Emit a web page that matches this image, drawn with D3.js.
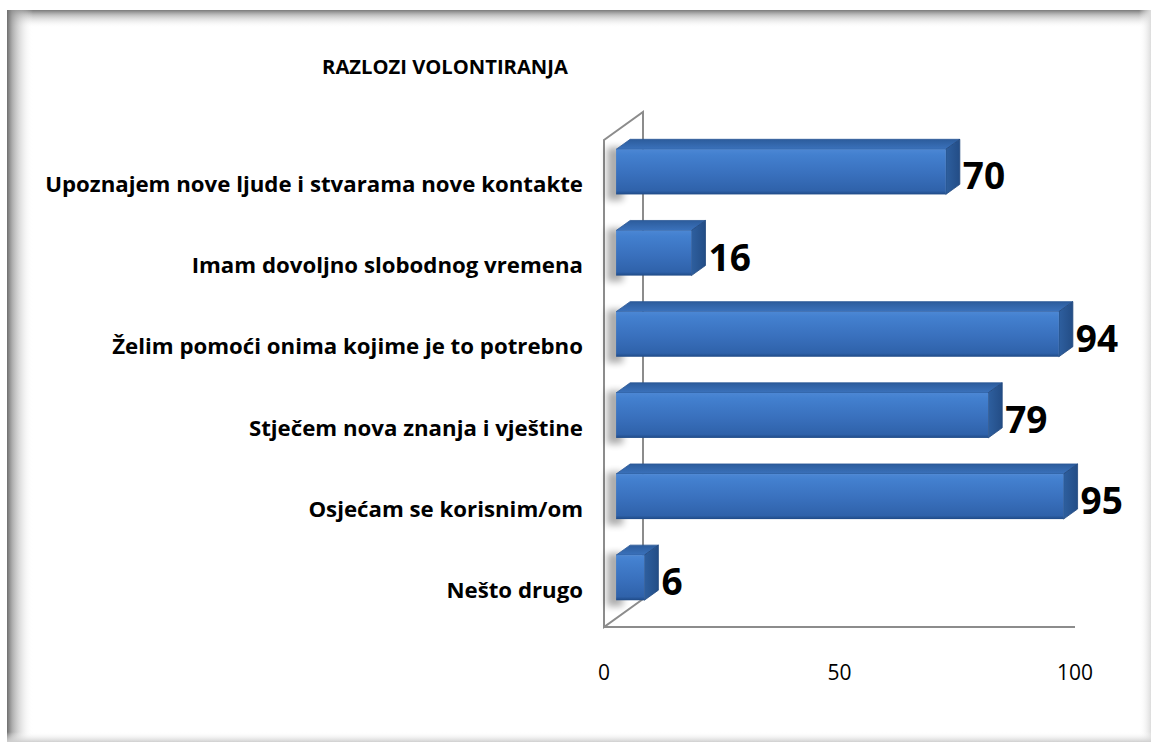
<!DOCTYPE html>
<html><head><meta charset="utf-8">
<script src="https://cdn.jsdelivr.net/npm/d3@7"></script>
<style>body{margin:0;background:#fff}svg{display:block}</style>
</head><body>
<svg id="c" width="1157" height="751"></svg>
<script>
const title = "RAZLOZI VOLONTIRANJA";
const categories = [
  "Upoznajem nove ljude i stvarama nove kontakte",
  "Imam dovoljno slobodnog vremena",
  "Želim pomoći onima kojime je to potrebno",
  "Stječem nova znanja i vještine",
  "Osjećam se korisnim/om",
  "Nešto drugo"
];
const values = [70, 16, 94, 79, 95, 6];
const tickValues = [0, 50, 100];

const svg = d3.select("#c");
const defs = svg.append("defs");
const font = "'Open Sans', 'Noto Sans', sans-serif";

// frame with inner shadow
const F = {x0: 7, y0: 10, x1: 1151, y1: 742};
svg.append("rect").attr("x", F.x0).attr("y", F.y0).attr("width", F.x1 - F.x0).attr("height", F.y1 - F.y0).attr("fill", "#fff");
function grad(id, x1, y1, x2, y2, stops) {
  const g = defs.append("linearGradient").attr("id", id).attr("x1", x1).attr("y1", y1).attr("x2", x2).attr("y2", y2);
  stops.forEach(s => g.append("stop").attr("offset", s[0]).attr("stop-color", s[1]).attr("stop-opacity", s[2]));
}
grad("gL", 0, 0, 1, 0, [[0, "#6e6e6e", 1], [0.2, "#999", 0.8], [1, "#fff", 0]]);
grad("gT", 0, 0, 0, 1, [[0, "#7a7a7a", 1], [0.3, "#aaa", 0.7], [1, "#fff", 0]]);
grad("gR", 1, 0, 0, 0, [[0, "#dcdcdc", 1], [1, "#fff", 0]]);
grad("gB", 0, 1, 0, 0, [[0, "#cfcfcf", 1], [1, "#fff", 0]]);
svg.append("rect").attr("x", F.x0).attr("y", F.y0).attr("width", F.x1 - F.x0).attr("height", 18).attr("fill", "url(#gT)");
svg.append("rect").attr("x", F.x0).attr("y", F.y0).attr("width", 26).attr("height", F.y1 - F.y0).attr("fill", "url(#gL)");
svg.append("rect").attr("x", F.x1 - 12).attr("y", F.y0).attr("width", 12).attr("height", F.y1 - F.y0).attr("fill", "url(#gR)");
svg.append("rect").attr("x", F.x0).attr("y", F.y1 - 10).attr("width", F.x1 - F.x0).attr("height", 10).attr("fill", "url(#gB)");

function fit(sel, target) {
  const w = sel.node().getComputedTextLength();
  const fs = parseFloat(sel.attr("font-size"));
  return fs * target / w;
}

// title
const tt = svg.append("text").attr("x", 445).attr("y", 74).attr("text-anchor", "middle")
  .attr("font-family", font).attr("font-weight", "bold").attr("font-size", 18).attr("fill", "#000").text(title);
tt.attr("font-size", fit(tt, 246));

// scales
const x = d3.scaleLinear().domain([0, 100]).range([604, 1075]);
const y = d3.scaleBand().domain(categories).range([140, 627]).padding(0);
const depth = {dx: 39, dy: -28};
const bf = 0.31, bb = 0.67; // bar front / back depth fractions
const barH = y.bandwidth() * 0.555;

// wall
const wallTop = y.range()[0], wallBot = y.range()[1];
const wallG = svg.append("g");
wallG.append("path")
  .attr("d", `M${x(0)},${wallTop}L${x(0) + depth.dx},${wallTop + depth.dy}L${x(0) + depth.dx},${wallBot + depth.dy}L${x(0)},${wallBot}Z`)
  .attr("fill", "#fff").attr("stroke", "#8c8c8c").attr("stroke-width", 2);
wallG.append("line").attr("x1", x(0)).attr("y1", wallBot).attr("x2", x(100)).attr("y2", wallBot)
  .attr("stroke", "#8c8c8c").attr("stroke-width", 2);

// shadows on wall
defs.append("filter").attr("id", "blur").attr("x", "-50%").attr("y", "-50%").attr("width", "200%").attr("height", "200%")
  .append("feGaussianBlur").attr("stdDeviation", 3.5);
const yc = c => y(c) + y.bandwidth() / 2;
svg.append("g").selectAll("rect").data(categories).join("rect")
  .attr("x", x(0) + 3).attr("width", 16)
  .attr("y", c => yc(c) + depth.dy * bf - barH / 2 - 2).attr("height", barH + 8)
  .attr("fill", "#000").attr("opacity", 0.32).attr("filter", "url(#blur)");

// bar gradients
grad("gFront", 0, 0, 0, 1, [[0, "#4c87d4", 1], [0.12, "#4380cf", 1], [0.55, "#3970bd", 1], [0.92, "#2f62aa", 1], [1, "#1f4a86", 1]]);
grad("gTop", 0, 1, 0, 0, [[0, "#3b72bc", 1], [1, "#2c5c9c", 1]]);
grad("gSide", 0, 0, 1, 0, [[0, "#2e5f9f", 1], [1, "#234d86", 1]]);

const bars = svg.append("g").selectAll("g").data(categories).join("g");
const fx0 = x(0) + depth.dx * bf;
const ddx = depth.dx * (bb - bf), ddy = depth.dy * (bb - bf);
bars.each(function (c, i) {
  const g = d3.select(this);
  const top = yc(c) + depth.dy * bf - barH / 2;
  const x0 = fx0;
  const xe = x0 + (x(values[i]) - x(0));
  g.append("path").attr("d", `M${x0},${top}L${x0 + ddx},${top + ddy}L${xe + ddx},${top + ddy}L${xe},${top}Z`)
    .attr("fill", "url(#gTop)").attr("stroke", "#2a5795").attr("stroke-width", 0.8).attr("stroke-linejoin", "round");
  g.append("path").attr("d", `M${xe},${top}L${xe + ddx},${top + ddy}L${xe + ddx},${top + barH + ddy}L${xe},${top + barH}Z`)
    .attr("fill", "url(#gSide)").attr("stroke", "#22497f").attr("stroke-width", 0.8).attr("stroke-linejoin", "round");
  g.append("rect").attr("x", x0).attr("y", top).attr("width", xe - x0).attr("height", barH)
    .attr("fill", "url(#gFront)");
  g.append("text").attr("x", xe + ddx + 3).attr("y", top + barH / 2 + 3)
    .attr("dominant-baseline", "central")
    .attr("font-family", font).attr("font-weight", "bold").attr("font-size", 37).attr("fill", "#000")
    .text(values[i]);
});

// category labels
const labs = svg.append("g").selectAll("text").data(categories).join("text")
  .attr("x", 583).attr("y", c => yc(c) + 3).attr("dominant-baseline", "central").attr("text-anchor", "end")
  .attr("font-family", font).attr("font-weight", "bold").attr("font-size", 20).attr("fill", "#000")
  .text(c => c);
labs.attr("font-size", fit(labs.filter((d, i) => i === 0), 538));

// x axis tick labels
svg.append("g").selectAll("text").data(tickValues).join("text")
  .attr("x", d => x(d)).attr("y", 672).attr("dominant-baseline", "central").attr("text-anchor", "middle")
  .attr("font-family", font).attr("font-size", 21).attr("fill", "#000").text(d => d);
</script>
</body></html>
